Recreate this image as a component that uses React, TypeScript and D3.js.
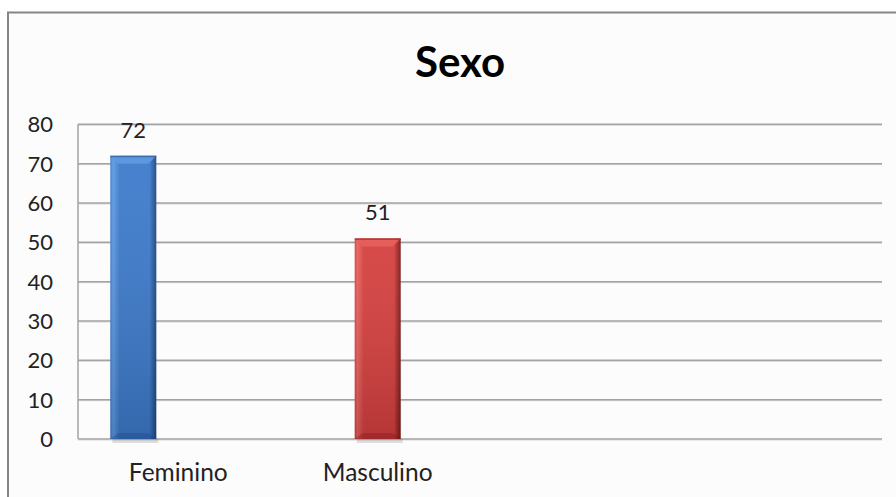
import React from "react";
import * as d3 from "d3";

const title = "Sexo";
const categories = ["Feminino", "Masculino"];
const values = [72, 51];
const yTicks = [0, 10, 20, 30, 40, 50, 60, 70, 80];
const barColors = [
  { light: "#5e9ae2", mid: "#3c7acb", dark: "#1b4680" },
  { light: "#e8605c", mid: "#d43f3e", dark: "#7a1717" },
];

const W = 896;
const H = 497;
const plot = { left: 78, right: 882, top: 124.3, bottom: 439 };
const barWidth = 46;
const labelOffsets = [45, 0];

export default function App() {
  const x = d3.scalePoint<string>().domain(categories).range([133.3, 377.7]);
  const y = d3.scaleLinear().domain([0, 80]).range([plot.bottom, plot.top]);
  const font = "Lato, 'Open Sans', sans-serif";

  return (
    <svg
      width={W}
      height={H}
      style={{ position: "absolute", left: 0, top: 0, background: "#ffffff" }}
    >
      <defs>
        {barColors.map((c, i) => (
          <React.Fragment key={i}>
            <linearGradient id={`gh${i}`} x1="0" x2="1" y1="0" y2="0">
              <stop offset="0" stopColor={c.mid} />
              <stop offset="0.06" stopColor={c.light} />
              <stop offset="0.2" stopColor={c.mid} />
              <stop offset="0.85" stopColor={c.mid} />
              <stop offset="1" stopColor={c.dark} />
            </linearGradient>
            <linearGradient id={`gv${i}`} x1="0" x2="0" y1="0" y2="1">
              <stop offset="0" stopColor="#ffffff" stopOpacity={0.06} />
              <stop offset="1" stopColor="#000000" stopOpacity={0.15} />
            </linearGradient>
          </React.Fragment>
        ))}
      </defs>
      <rect
        x={8}
        y={12.5}
        width={W}
        height={H}
        fill="#fcfcfc"
        stroke="#858585"
        strokeWidth={2}
      />
      <text
        x={460}
        y={77}
        textAnchor="middle"
        fontFamily={font}
        fontWeight="bold"
        fontSize={42}
        fill="#000"
      >
        {title}
      </text>
      {yTicks.map((t) => (
        <g key={t}>
          <line
            x1={plot.left}
            x2={plot.right}
            y1={y(t) + 1}
            y2={y(t) + 1}
            stroke="#d6d6d6"
            strokeWidth={1}
          />
          <line
            x1={plot.left}
            x2={plot.right}
            y1={y(t)}
            y2={y(t)}
            stroke="#a3a3a3"
            strokeWidth={1.5}
          />
          <text
            x={53}
            y={y(t) + 8}
            textAnchor="end"
            fontFamily={font}
            fontSize={22}
            fill="#222"
          >
            {t}
          </text>
        </g>
      ))}
      <line
        x1={plot.left}
        x2={plot.left}
        y1={plot.top}
        y2={plot.bottom}
        stroke="#a3a3a3"
        strokeWidth={1.5}
      />
      {categories.map((c, i) => {
        const cx = x(c) as number;
        const x0 = cx - barWidth / 2;
        const top = y(values[i]);
        const h = plot.bottom - top;
        const col = barColors[i];
        return (
          <g key={c}>
            <rect x={x0 + 2} y={plot.bottom} width={barWidth} height={4} fill="#000" opacity={0.12} />
            <rect x={x0} y={top} width={barWidth} height={h} fill={`url(#gh${i})`} />
            <rect x={x0} y={top} width={barWidth} height={h} fill={`url(#gv${i})`} />
            <polygon
              points={`${x0},${top} ${x0 + barWidth},${top} ${x0 + barWidth - 8},${top + 8} ${x0 + 8},${top + 8}`}
              fill={col.light}
              opacity={0.9}
            />
            <rect x={x0} y={top} width={barWidth} height={1.5} fill={col.dark} opacity={0.5} />
            <polygon
              points={`${x0},${plot.bottom} ${x0 + barWidth},${plot.bottom} ${x0 + barWidth - 8},${plot.bottom - 6} ${x0 + 8},${plot.bottom - 6}`}
              fill={col.dark}
              opacity={0.35}
            />
            <text
              x={cx}
              y={top - 18}
              textAnchor="middle"
              fontFamily={font}
              fontSize={22}
              fill="#222"
            >
              {values[i]}
            </text>
            <text
              x={cx + labelOffsets[i]}
              y={481}
              textAnchor="middle"
              fontFamily={font}
              fontSize={24.5}
              fill="#222"
            >
              {c}
            </text>
          </g>
        );
      })}
    </svg>
  );
}
